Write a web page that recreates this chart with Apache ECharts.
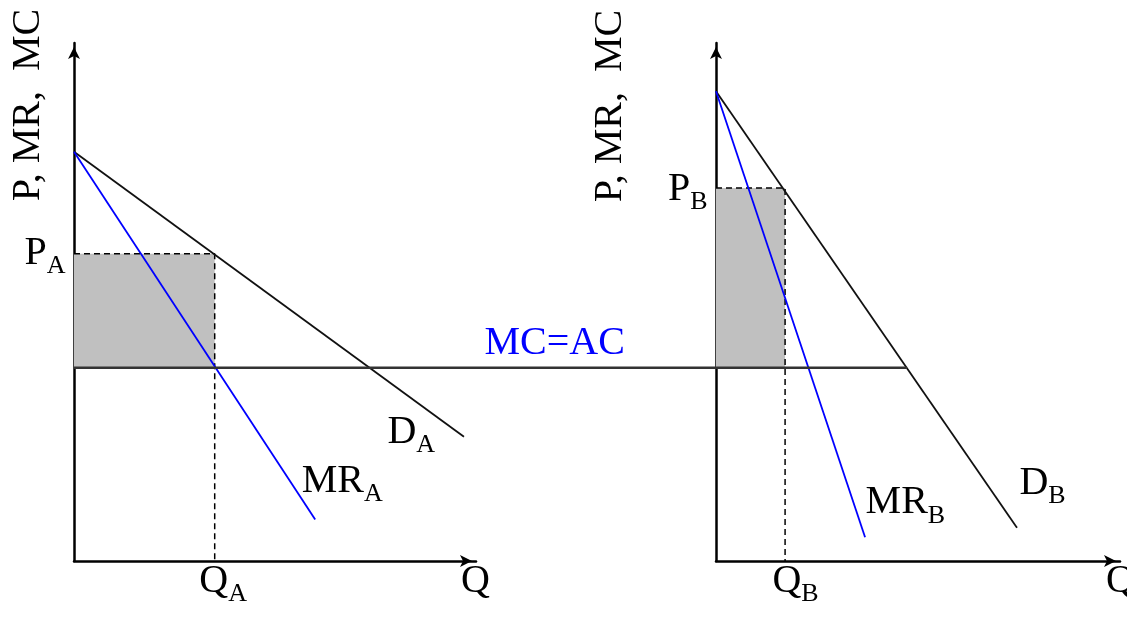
<!DOCTYPE html>
<html>
<head>
<meta charset="utf-8">
<script src="https://cdn.jsdelivr.net/npm/echarts@6/dist/echarts.min.js"></script>
<style>
  html, body { margin: 0; padding: 0; background: #ffffff; }
  #chart { width: 1127px; height: 617px; }
</style>
</head>
<body>
<div id="chart"></div>
<script>
// Market A: flatter (more elastic) demand
const demandA = [[0, 79], [97, 24]];
const marginalRevenueA = [[0, 79], [60, 8]];
const priceA = 59.3;
const quantityA = 35;

// Market B: steeper (less elastic) demand
const demandB = [[0, 90.7], [74.5, 6.4]];
const marginalRevenueB = [[0, 90.7], [36.9, 4.6]];
const priceB = 72;
const quantityB = 17.1;

// Constant marginal cost = average cost, shared by both markets
const marginalCost = 37.3;
const mcMeetsDemandB = 47.3;

const axisMax = 100;
const yTitle = 'P, MR,  MC';

const SERIF = '"Liberation Serif", "Times New Roman", serif';
const INK = '#000000';
const BLUE = '#0000ff';

// main letter + lowered subscript
const rich = {
  m: { fontFamily: SERIF, fontSize: 40, lineHeight: 40, verticalAlign: 'top', color: INK },
  s: { fontFamily: SERIF, fontSize: 26, verticalAlign: 'top', padding: [20, 0, 0, 0], color: INK },
  b: { fontFamily: SERIF, fontSize: 40, lineHeight: 40, verticalAlign: 'top', color: BLUE }
};

function axisPair(gridIndex) {
  const common = {
    gridIndex: gridIndex,
    type: 'value',
    min: 0,
    max: axisMax,
    axisLine: {
      show: true,
      lineStyle: { color: INK, width: 2.5 },
      symbol: ['none', 'arrow'],
      symbolSize: [9, 12],
      symbolOffset: [0, -4]
    },
    axisTick: { show: false },
    axisLabel: { show: false },
    splitLine: { show: false }
  };
  return [Object.assign({}, common), Object.assign({}, common)];
}

const [xA, yA] = axisPair(0);
const [xB, yB] = axisPair(1);
// invisible frame spanning both panels, used by the shared cost line
const xSpan = { gridIndex: 2, type: 'value', min: 0, max: axisMax, show: false };
const ySpan = { gridIndex: 2, type: 'value', min: 0, max: axisMax, show: false };

function lineSeries(id, grid, data, color, width, type, extra) {
  return Object.assign({
    id: id,
    type: 'line',
    xAxisIndex: grid,
    yAxisIndex: grid,
    data: data,
    symbol: 'none',
    silent: true,
    lineStyle: { color: color, width: width, type: type || 'solid' },
    z: 3
  }, extra || {});
}

function labelItem(value, text, position, align, verticalAlign) {
  return {
    value: value,
    label: {
      show: true,
      formatter: text,
      position: position,
      align: align,
      verticalAlign: verticalAlign,
      color: INK,
      rich: rich
    }
  };
}

function labelSeries(id, grid, items) {
  return {
    id: id,
    type: 'scatter',
    xAxisIndex: grid,
    yAxisIndex: grid,
    symbolSize: 1,
    itemStyle: { color: 'rgba(0,0,0,0)', opacity: 1 },
    silent: true,
    z: 5,
    data: items
  };
}

const option = {
  animation: false,
  backgroundColor: '#ffffff',
  grid: [
    { left: 74, top: 43, width: 402, height: 518 },
    { left: 716, top: 43, width: 404, height: 518 },
    { left: 74, top: 43, width: 1046, height: 518 }
  ],
  xAxis: [xA, xB, xSpan],
  yAxis: [yA, yB, ySpan],
  graphic: [
    {
      type: 'text', x: 28, y: 105, rotation: Math.PI / 2,
      style: { text: yTitle, font: '40px ' + SERIF, fill: INK, textAlign: 'center', textVerticalAlign: 'middle' }
    },
    {
      type: 'text', x: 610, y: 106, rotation: Math.PI / 2,
      style: { text: yTitle, font: '40px ' + SERIF, fill: INK, textAlign: 'center', textVerticalAlign: 'middle' }
    }
  ],
  series: [
    // Market A
    lineSeries('guideA', 0, [[0, priceA], [quantityA, priceA], [quantityA, 0]], INK, 1.5, [6, 4], {
      markArea: {
        silent: true,
        itemStyle: { color: '#c0c0c0' },
        data: [[{ coord: [0, marginalCost] }, { coord: [quantityA, priceA] }]]
      }
    }),
    lineSeries('demandA', 0, demandA, '#111111', 1.8),
    lineSeries('mrA', 0, marginalRevenueA, BLUE, 1.8),
    labelSeries('labelsA', 0, [
      labelItem([0, priceA], '{m|P}{s|A}', [-8, 3], 'right', 'middle'),
      labelItem([quantityA, 0], '{m|Q}{s|A}', [9, 1], 'center', 'top'),
      labelItem([axisMax, 0], '{m|Q}', [0, 1], 'center', 'top'),
      labelItem(demandA[1], '{m|D}{s|A}', [-76, -24], 'left', 'top'),
      labelItem(marginalRevenueA[1], '{m|MR}{s|A}', [-13, -58], 'left', 'top'),
      labelItem([axisMax, marginalCost], '{b|MC=AC}', [9, -44], 'left', 'top')
    ]),
    // Market B
    lineSeries('guideB', 1, [[0, priceB], [quantityB, priceB], [quantityB, 0]], INK, 1.5, [6, 4], {
      markArea: {
        silent: true,
        itemStyle: { color: '#c0c0c0' },
        data: [[{ coord: [0, marginalCost] }, { coord: [quantityB, priceB] }]]
      }
    }),
    lineSeries('demandB', 1, demandB, '#111111', 1.8),
    lineSeries('mrB', 1, marginalRevenueB, BLUE, 1.8),
    labelSeries('labelsB', 1, [
      labelItem([0, priceB], '{m|P}{s|B}', [-8, 5], 'right', 'middle'),
      labelItem([quantityB, 0], '{m|Q}{s|B}', [11, 1], 'center', 'top'),
      labelItem([axisMax, 0], '{m|Q}', [1, 1], 'center', 'top'),
      labelItem(demandB[1], '{m|D}{s|B}', [3, -64], 'left', 'top'),
      labelItem(marginalRevenueB[1], '{m|MR}{s|B}', [1, -54], 'left', 'top')
    ]),
    // Shared marginal cost line (end filled in once the scales exist)
    lineSeries('mc', 2, [[0, marginalCost], [axisMax, marginalCost]], '#333333', 2.5, 'solid', { z: 4 })
  ]
};

const chart = echarts.init(document.getElementById('chart'), null, { renderer: 'canvas' });
chart.setOption(option);

// The cost line runs from market A's price axis across to where it meets demand in market B.
const mcEndPx = chart.convertToPixel({ gridIndex: 1 }, [mcMeetsDemandB, marginalCost]);
const mcEndInSpan = chart.convertFromPixel({ gridIndex: 2 }, mcEndPx);
chart.setOption({
  series: [{ id: 'mc', data: [[0, marginalCost], [mcEndInSpan[0], marginalCost]] }]
});
</script>
</body>
</html>
